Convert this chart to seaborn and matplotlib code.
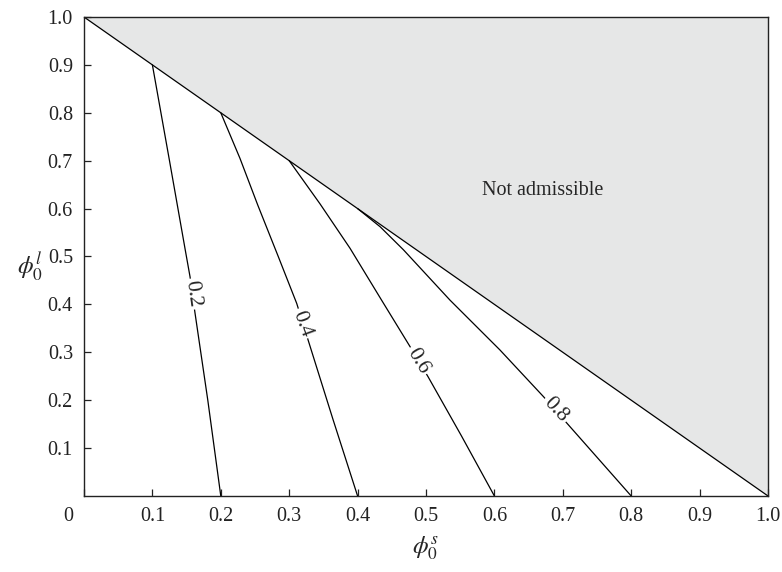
import matplotlib
matplotlib.use("Agg")
import matplotlib.pyplot as plt
import seaborn as sns
from matplotlib.transforms import ScaledTranslation

# --- dados ---
curve_levels = ["0.2", "0.4", "0.6", "0.8"]
curve_x = [
    [0.200, 0.181, 0.162, 0.155, 0.148, 0.125, 0.100],
    [0.400, 0.364, 0.328, 0.311, 0.284, 0.254, 0.228, 0.200],
    [0.600, 0.552, 0.503, 0.4766, 0.435, 0.389, 0.345, 0.300],
    [0.800, 0.706, 0.672, 0.608, 0.535, 0.467, 0.433, 0.400],
]
curve_y = [
    [0.000, 0.200, 0.385, 0.458, 0.514, 0.700, 0.900],
    [0.000, 0.160, 0.324, 0.402, 0.500, 0.6075, 0.705, 0.800],
    [0.000, 0.125, 0.249, 0.312, 0.409, 0.517, 0.610, 0.700],
    [0.000, 0.152, 0.207, 0.305, 0.409, 0.514, 0.562, 0.600],
]
# posição e ângulo dos rótulos das curvas
label_x = [0.1585, 0.319, 0.4885, 0.689]
label_y = [0.4215, 0.3595, 0.282, 0.179]
label_rot = [-82, -70, -59, -47]

boundary_x = [0.0, 1.0]
boundary_y = [1.0, 0.0]

tick_values = [0.1, 0.2, 0.3, 0.4, 0.5, 0.6, 0.7, 0.8, 0.9, 1.0]

sns.set_theme(style="ticks")
plt.rcParams['font.family'] = ['Liberation Serif', 'DejaVu Serif']
plt.rcParams['mathtext.fontset'] = 'stix'

fig = plt.figure(figsize=(7.82, 5.72), dpi=100)
ax = fig.add_axes([0.1074, 0.1329, 0.8747, 0.8374])

# região não admissível
ax.fill_between(boundary_x, boundary_y, 1.0, color='#e6e7e7', lw=0, zorder=0)
sns.lineplot(x=boundary_x, y=boundary_y, ax=ax, color='black', lw=0.9, sort=False)

for i, lev in enumerate(curve_levels):
    sns.lineplot(x=curve_x[i], y=curve_y[i], ax=ax, color='black', lw=0.9,
                 sort=False, estimator=None)
    ax.text(label_x[i], label_y[i], lev, rotation=label_rot[i], rotation_mode='anchor',
            ha='center', va='center', fontsize=15.5, zorder=5,
            bbox=dict(facecolor='white', edgecolor='none', pad=1.5))

ax.text(0.671, 0.637, 'Not admissible', ha='center', va='center', fontsize=14.5)

ax.set_xlim(0, 1)
ax.set_ylim(0, 1)
ax.set_xticks([0.0] + tick_values)
ax.set_xticklabels(['0'] + ['%.1f' % t for t in tick_values])
ax.set_yticks(tick_values)
ax.set_yticklabels(['%.1f' % t for t in tick_values])
ax.tick_params(direction='in', length=5, width=0.9, pad=8, labelsize=14.5, colors='#222222')
ax.tick_params(top=False, right=False)

# o "0" fica deslocado para a esquerda do canto
lbl0 = ax.get_xticklabels()[0]
lbl0.set_transform(lbl0.get_transform() + ScaledTranslation(-0.16, 0, fig.dpi_scale_trans))

for s in ax.spines.values():
    s.set_color('#222222')
    s.set_linewidth(1.0)

ax.set_xlabel(r'$\phi_0^s$', fontsize=18, va='center')
ax.set_ylabel(r'$\phi_0^l$', fontsize=18, rotation=0, ha='center', va='center')
ax.xaxis.set_label_coords(0.4985, -0.1086)
ax.yaxis.set_label_coords(-0.079, 0.478)

plt.savefig('out.png', dpi=100)
